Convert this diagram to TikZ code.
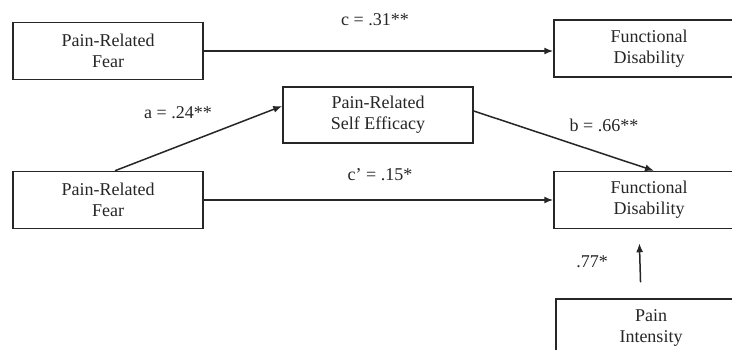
\documentclass[tikz,border=0pt]{standalone}
\usepackage{fontspec}
\setmainfont{Liberation Serif}
\usetikzlibrary{arrows.meta}
\begin{document}
\begin{tikzpicture}[x=1pt,y=-1pt,
  box/.style={draw=black!85,line width=1.5pt,minimum width=190pt,minimum height=57pt,inner sep=0pt,align=center,font=\fontsize{18}{21}\selectfont,text=black!85},
  lbl/.style={font=\fontsize{18}{21}\selectfont,text=black!85,inner sep=0pt},
  arr/.style={draw=black!85,line width=1.5pt,-{Latex[length=9pt,width=7pt]}}]
\useasboundingbox (0,0) rectangle (732,350);
\clip (0,0) rectangle (732,350);
\fill[white] (0,0) rectangle (732,350);
\node[box] (fear1) at (108,51) {Pain-Related\\Fear};
\node[box] (fd1) at (649,48.5) {Functional\\Disability};
\node[box,minimum height=56pt] (pse) at (378,115) {Pain-Related\\Self Efficacy};
\node[box] (fear2) at (108,200) {Pain-Related\\Fear};
\node[box] (fd2) at (649,200) {Functional\\Disability};
\node[box] (pi) at (651,327.5) {Pain\\Intensity};
\draw[arr] (fear1.east) -- (fear1.east -| fd1.west);
\draw[arr] ([xshift=7pt]fear2.north) -- ([yshift=9pt]pse.west);
\draw[arr] ([yshift=4pt]pse.east) -- ([xshift=5pt]fd2.north);
\draw[arr] (fear2.east) -- (fd2.west);
\draw[arr,shorten <=16pt,shorten >=14pt] ([xshift=-10pt]pi.north) -- ([xshift=-10pt]fd2.south);
\node[lbl] (lc) at (375,20) {c = .31**};
\node[lbl] (la) at (178,113) {a = .24**};
\node[lbl] (lb) at (604,125) {b = .66**};
\node[lbl] (lcp) at (380,175) {c’ = .15*};
\node[lbl] (l77) at (592,262) {.77*};
\end{tikzpicture}
\end{document}
